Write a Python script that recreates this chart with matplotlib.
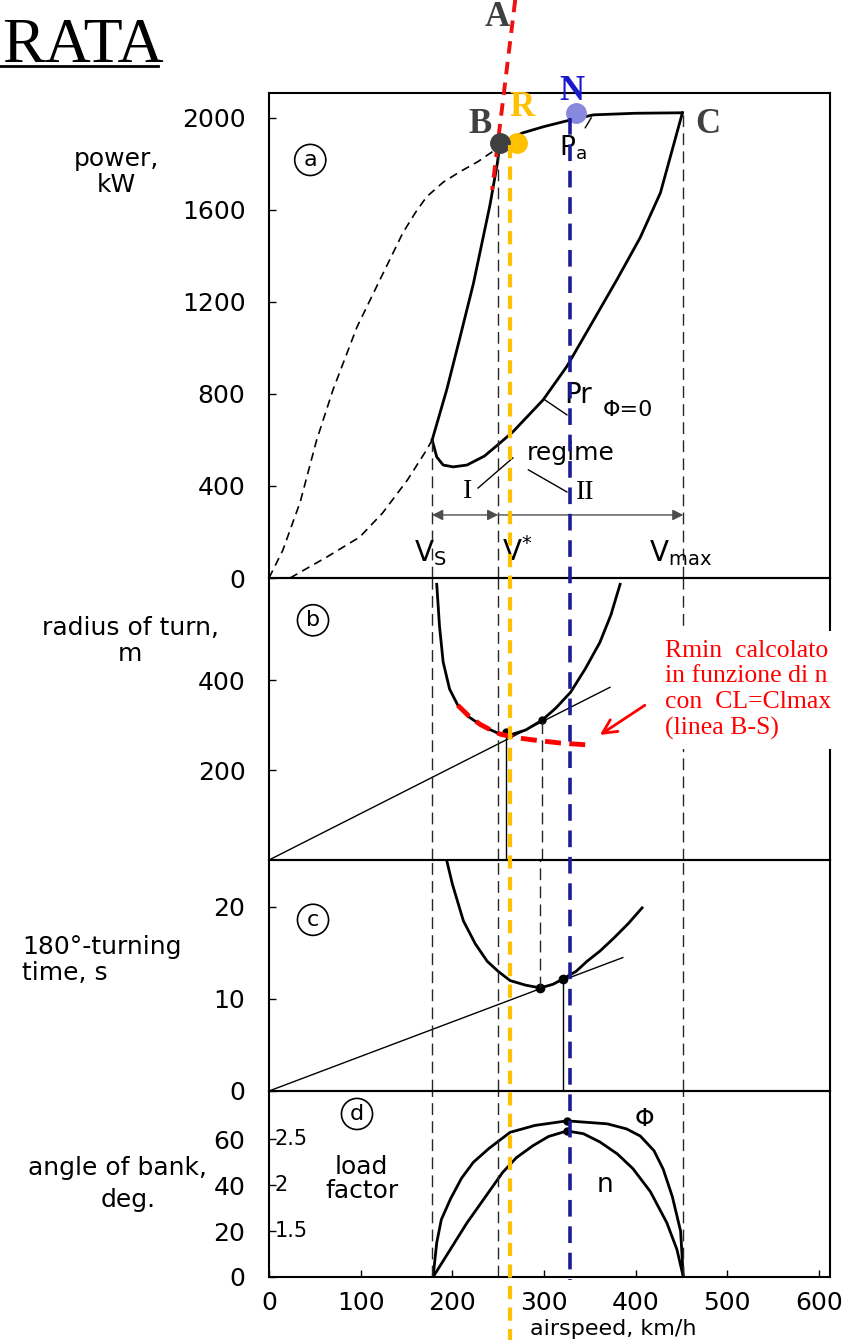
import matplotlib
matplotlib.use('Agg')
import matplotlib.pyplot as plt

plt.rcParams['font.family'] = ['DejaVu Sans']
plt.rcParams['lines.scale_dashes'] = False
plt.rcParams['mathtext.default'] = 'regular'

# --- dati (velocita' in km/h) ---
V_S, V_STAR, V_MAX = 178, 250, 452
V_R, V_N = 263, 328          # linee tratteggiate arancio / blu

# (a) potenza disponibile Pa
v_pa = [252, 277, 300, 329, 354, 400, 451]
p_pa = [1890, 1935, 1962, 1991, 2013, 2020, 2022]
# prolungamento tratteggiato di Pa
v_pa_ext = [0, 15, 34, 52, 70, 96, 121, 146, 160, 172, 190, 208, 228, 250]
p_pa_ext = [0, 120, 330, 600, 820, 1091, 1296, 1500, 1590, 1657, 1720, 1765, 1810, 1870]
# potenza necessaria Pr (phi=0)
v_pr = [178, 183, 190, 201, 216, 235, 252, 266, 299, 325, 354, 380, 405, 427, 451]
p_pr = [600, 526, 491, 483, 491, 530, 587, 635, 774, 920, 1120, 1300, 1480, 1674, 2022]
v_pr_ext = [23, 63, 99, 124, 151, 172, 178]
p_pr_ext = [0, 91, 178, 283, 426, 557, 600]
# ramo di stallo (CL max)
v_stall = [178, 194, 208, 223, 241, 249, 252]
p_stall = [600, 820, 1040, 1280, 1620, 1800, 1890]

# (b) raggio di virata
v_rad = [183, 186, 190, 197, 206, 218, 230, 241, 252, 263, 280, 298, 313, 329, 345, 361, 373, 383]
r_rad = [613, 520, 440, 380, 344, 318, 302, 290, 280, 278, 289, 311, 338, 373, 425, 484, 545, 613]
v_rad_line = [0, 372]
r_rad_line = [0, 384]
v_rmin = [206, 218, 230, 241, 252, 270, 288, 318, 347]
r_rmin = [344, 320, 302, 290, 280, 272, 267, 260, 256]
v_rad_pts = [259, 298]
r_rad_pts = [284, 311]

# (c) tempo di virata 180 gradi
v_t = [194, 200, 212, 225, 238, 250, 263, 280, 296, 310, 321, 335, 347, 361, 376, 392, 407]
t_t = [25, 22.5, 18.5, 16, 14.1, 13, 12, 11.5, 11.2, 11.6, 12.2, 13, 14.1, 15.2, 16.6, 18.2, 19.9]
v_t_line = [0, 386]
t_t_line = [0, 14.5]
v_t_pts = [296, 321]
t_t_pts = [11.2, 12.2]

# (d) angolo di bank e fattore di carico
v_phi = [179, 183, 188, 198, 210, 223, 240, 263, 290, 325, 369, 390, 405, 420, 430, 440, 449, 452]
phi = [0, 15, 25, 34, 43, 50, 56, 63, 66, 68, 66.7, 64.5, 61.4, 55, 47, 35, 20, 0]
v_n = [179, 216, 255, 270, 288, 305, 325, 343, 361, 380, 397, 416, 434, 445, 452]
n_load = [1, 1.59, 2.14, 2.3, 2.43, 2.53, 2.59, 2.56, 2.47, 2.34, 2.18, 1.93, 1.59, 1.3, 1]

XMAX = 612
FS = 18
fig = plt.figure(figsize=(8.5, 13.4), dpi=100)


def add_panel(top, bottom, left=269, right=830):
    ax = fig.add_axes([left / 850, 1 - bottom / 1340, (right - left) / 850, (bottom - top) / 1340])
    ax.set_xlim(0, XMAX)
    ax.patch.set_alpha(0)
    for s in ax.spines.values():
        s.set_linewidth(1.5)
    ax.tick_params(direction='in', length=5, width=1, labelsize=FS, pad=17,
                   bottom=False, labelbottom=False)
    return ax


ax_a = add_panel(93, 578)
ax_b = add_panel(578, 860)
ax_c = add_panel(860, 1091)
ax_d = add_panel(1091, 1277)

ax_a.set_ylim(0, 2108)
ax_b.set_ylim(0, 627)
ax_c.set_ylim(0, 25.1)
ax_d.set_ylim(0, 81)
ax_a.set_yticks([0, 400, 800, 1200, 1600, 2000])
ax_b.set_yticks([200, 400])
ax_c.set_yticks([0, 10, 20])
ax_d.set_yticks([0, 20, 40, 60])
ax_d.set_xticks(range(0, 601, 100))
ax_d.tick_params(axis='x', bottom=True, labelbottom=True, pad=10)

dash_k = dict(color='0.15', lw=1.0, dashes=(8.5, 4.5))
thick = dict(color='black', lw=2.0)
thin = dict(color='black', lw=1.0)
circ = dict(boxstyle='circle,pad=0.25', fc='none', ec='black', lw=1.2)

# ---------- (a) ----------
ax_a.plot(v_pa, p_pa, **thick)
ax_a.plot(v_pa_ext, p_pa_ext, color='black', lw=1.2, dashes=(6, 4))
ax_a.plot(v_pr, p_pr, **thick)
ax_a.plot(v_pr_ext, p_pr_ext, color='black', lw=1.2, dashes=(6, 4))
ax_a.plot(v_stall, p_stall, **thick)
ax_a.plot([V_S, V_S], [0, p_pr[0]], **dash_k)
ax_a.plot([V_STAR, V_STAR], [0, p_pa[0]], **dash_k)
ax_a.plot([V_MAX, V_MAX], [0, p_pa[-1]], **dash_k)

ax_a.annotate('', xy=(V_S, 274), xytext=(V_STAR, 274),
              arrowprops=dict(arrowstyle='<|-|>', color='0.3', lw=1, shrinkA=0, shrinkB=0,
                              mutation_scale=16))
ax_a.annotate('', xy=(V_MAX, 274), xytext=(V_STAR, 274),
              arrowprops=dict(arrowstyle='-|>', color='0.3', lw=1, shrinkA=0, shrinkB=0,
                              mutation_scale=16))

ax_a.text(176, 109, 'V$_S$', fontsize=20, ha='center', va='center')
ax_a.text(271, 112, 'V$^{*}$', fontsize=20, ha='center', va='center')
ax_a.text(449, 109, 'V$_{max}$', fontsize=20, ha='center', va='center')
ax_a.text(331, 1870, 'P$_a$', fontsize=19, ha='center', va='center')
ax_a.plot([345, 351.5], [1957, 2000], **thin)
ax_a.text(322, 796, 'Pr', fontsize=20, ha='left', va='center')
ax_a.text(364, 730, 'Φ=0', fontsize=16, ha='left', va='center')
ax_a.plot([301, 325], [774, 709], **thin)
ax_a.text(329, 543, 'regime', fontsize=FS, ha='center', va='center')
ax_a.text(217, 374, 'I', fontsize=20, ha='center', va='center', family='Liberation Serif')
ax_a.text(345, 370, 'II', fontsize=20, ha='center', va='center', family='Liberation Serif')
ax_a.plot([228, 266], [391, 522], **thin)
ax_a.plot([283, 325], [470, 374], **thin)
ax_a.text(45, 1817, 'a', fontsize=16, ha='center', va='center', bbox=circ)

# punti A-B, R, N, C
ax_a.plot([268.6, 243.4], [2513, 1687], color='#ee1111', lw=2.8, dashes=(9, 6), clip_on=False, zorder=5)
ax_a.plot([252], [1890], 'o', color='#404040', ms=14, clip_on=False, zorder=6)
ax_a.plot([270], [1890], 'o', color='#ffc000', ms=14, clip_on=False, zorder=5)
ax_a.plot([335], [2022], 'o', color='#8888dd', ms=14, clip_on=False, zorder=6)
lab = dict(family='Liberation Serif', fontweight='bold', fontsize=25, ha='center', va='center')
ax_a.text(249, 2435, 'A', color='#404040', **lab)
ax_a.text(230, 1970, 'B', color='#404040', **lab)
ax_a.text(479, 1970, 'C', color='#404040', **lab)
ax_a.text(276, 2043, 'R', color='#ffc000', **lab)
ax_a.text(331, 2113, 'N', color='#1a1acc', **lab)

# ---------- (b) ----------
ax_b.plot(v_rad, r_rad, **thick)
ax_b.plot(v_rad_line, r_rad_line, **thin)
ax_b.plot(v_rad_pts, r_rad_pts, 'o', color='black', ms=5)
ax_b.plot([v_rad_pts[0]] * 2, [0, r_rad_pts[0]], **thin)
ax_b.plot([v_rad_pts[1]] * 2, [0, r_rad_pts[1]], **dash_k)
for v in (V_S, V_STAR, V_MAX):
    ax_b.plot([v, v], [0, 627], **dash_k)
ax_b.plot(v_rmin, r_rmin, color='#ff0000', lw=3.5, dashes=(11.5, 6), zorder=4)
ax_b.text(48, 533, 'b', fontsize=16, ha='center', va='center', bbox=circ)
ax_b.text(432, 378, 'Rmin  calcolato\nin funzione di n\ncon  CL=Clmax\n(linea B-S)',
          color='#ff0000', fontsize=18.5, family='Liberation Serif', ha='left', va='center',
          linespacing=1.22, zorder=6, clip_on=False,
          bbox=dict(boxstyle='square,pad=0.35', fc='white', ec='none'))
ax_b.annotate('', xy=(361, 278), xytext=(410, 344),
              arrowprops=dict(arrowstyle='->', color='#ff0000', lw=2, mutation_scale=25,
                              shrinkA=0, shrinkB=0))

# ---------- (c) ----------
ax_c.plot(v_t, t_t, **thick)
ax_c.plot(v_t_line, t_t_line, **thin)
ax_c.plot(v_t_pts, t_t_pts, 'o', color='black', ms=6)
ax_c.plot([v_t_pts[0]] * 2, [t_t_pts[0], 25.1], **dash_k)
ax_c.plot([v_t_pts[1]] * 2, [0, t_t_pts[1]], **thin)
for v in (V_S, V_STAR, V_MAX):
    ax_c.plot([v, v], [0, 25.1], **dash_k)
ax_c.text(48, 18.6, 'c', fontsize=16, ha='center', va='center', bbox=circ)

# ---------- (d) ----------
n_as_deg = [(n - 1) * 40 for n in n_load]
ax_d.plot(v_phi, phi, **thick)
ax_d.plot(v_n, n_as_deg, **thick)
ax_d.plot([325, 325], [68, 63.6], 'o', color='black', ms=5)
for v in (V_S, V_STAR, V_MAX):
    ax_d.plot([v, v], [0, 81], **dash_k)
for n in (1.5, 2, 2.5):
    ax_d.text(6, (n - 1) * 40, f'{n:g}', fontsize=15, ha='left', va='center')
ax_d.text(101, 42.5, 'load\nfactor', fontsize=FS, ha='center', va='center', linespacing=1.0)
ax_d.text(410, 69, 'Φ', fontsize=18, ha='center', va='center')
ax_d.text(367, 40, 'n', fontsize=19, ha='center', va='center')
ax_d.text(96, 71, 'd', fontsize=16, ha='center', va='center', bbox=circ)

# ---------- linee colorate su tutti i pannelli ----------
ov = fig.add_axes([269 / 850, 0, 561 / 850, 1])
ov.set_xlim(0, XMAX)
ov.set_ylim(1340, 0)
ov.axis('off')
ov.plot([V_R, V_R], [145, 1340], color='#ffc000', lw=3, dashes=(9.5, 6))
ov.plot([V_N, V_N], [118, 1280], color='#1c1c99', lw=2.6, dashes=(12, 7))


# ---------- testi esterni ----------
def ftext(px, py, s, **kw):
    fig.text(px / 850, 1 - py / 1340, s, **kw)


ftext(116, 172, 'power,\nkW', fontsize=FS, ha='center', va='center', linespacing=1.15)
ftext(130, 641, 'radius of turn,\nm', fontsize=FS, ha='center', va='center', linespacing=1.15)
ftext(22, 960, '180°-turning\ntime, s', fontsize=FS, ha='left', va='center', linespacing=1.15)
ftext(207, 1168, 'angle of bank,', fontsize=FS, ha='right', va='center')
ftext(128, 1200, 'deg.', fontsize=FS, ha='center', va='center')
ftext(530, 1339, 'airspeed, km/h', fontsize=16, ha='left', va='bottom')
ftext(2, 62, 'RATA', fontsize=46, family='Liberation Serif', ha='left', va='baseline')
fig.add_artist(plt.Line2D([0, 158 / 850], [1 - 66 / 1340] * 2, color='black', lw=2))

fig.savefig('out.png', dpi=100)
